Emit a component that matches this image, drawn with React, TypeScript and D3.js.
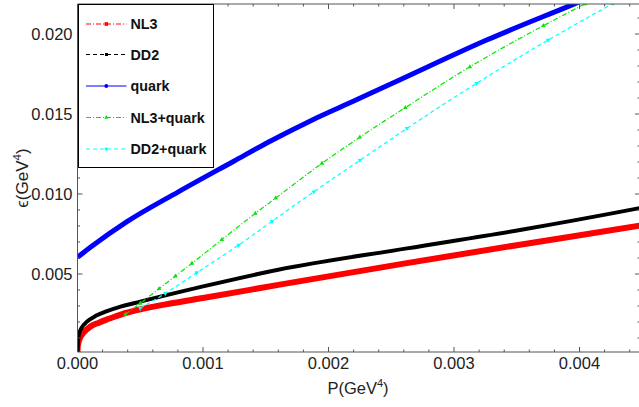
import React from 'react';
import * as d3 from 'd3';

const W = 639, H = 407;
const xTicks = [0, 0.001, 0.002, 0.003, 0.004];
const xTickLabels = ['0.000', '0.001', '0.002', '0.003', '0.004'];
const yTicks = [0.005, 0.010, 0.015, 0.020];
const yTickLabels = ['0.005', '0.010', '0.015', '0.020'];

const nl3P = [0, 0.000002, 0.000008, 0.00002, 0.00005, 0.0001, 0.00017, 0.00025, 0.00035, 0.0005, 0.00075, 0.001, 0.0016, 0.0026, 0.0035, 0.0045, 0.0046];
const nl3E = [0.00012, 0.00045, 0.00072, 0.001, 0.00135, 0.0017, 0.00196, 0.0022, 0.00248, 0.00279, 0.00317, 0.0035, 0.00432, 0.00565, 0.0068, 0.00805, 0.00818];

const dd2P = [0, 0.000003, 0.00001, 0.00003, 0.0000757, 0.00015, 0.000235, 0.00035, 0.0005, 0.00075, 0.000992, 0.00159, 0.002625, 0.003526, 0.004468, 0.0046];
const dd2E = [0.0001, 0.0006, 0.00119, 0.0016, 0.00202, 0.0024, 0.00268, 0.00298, 0.00327, 0.00376, 0.00421, 0.00525, 0.0066, 0.00775, 0.0091, 0.0093];

const quarkP = [0, 0.0001, 0.000394, 0.0008, 0.001245, 0.001523, 0.001855, 0.002227, 0.00257, 0.00326, 0.003964, 0.0043];
const quarkE = [0.00604, 0.00665, 0.00827, 0.01012, 0.01205, 0.01325, 0.01457, 0.0159, 0.01714, 0.01962, 0.0219, 0.0230];

const nl3qP = [0.000381, 0.0005, 0.00065, 0.00078, 0.000912, 0.00115, 0.001417, 0.00158, 0.001948, 0.00225, 0.002612, 0.003127, 0.003712, 0.004044];
const nl3qE = [0.00248, 0.00317, 0.00408, 0.00487, 0.00567, 0.00715, 0.00879, 0.00975, 0.01192, 0.01355, 0.0154, 0.01795, 0.02052, 0.02188];

const dd2qP = [0.0005, 0.0007, 0.00095, 0.001284, 0.00155, 0.001882, 0.00225, 0.002625, 0.00318, 0.00375, 0.00427];
const dd2qE = [0.00286, 0.00379, 0.00508, 0.00681, 0.00829, 0.01014, 0.0121, 0.0141, 0.01692, 0.01962, 0.02192];

const legendLabels = ['NL3', 'DD2', 'quark', 'NL3+quark', 'DD2+quark'];

const x = d3.scaleLinear().domain([0, 0.004482]).range([77.5, 640]);
const y = d3.scaleLinear().domain([0.000125, 0.021875]).range([352, 4]);

const zip = (a: number[], b: number[]) => a.map((v, i) => [v, b[i]] as [number, number]);
const line = d3.line<[number, number]>().x(d => x(d[0])).y(d => y(d[1])).curve(d3.curveMonotoneX);

const tri = (cx: number, cy: number, s: number, up: boolean) => {
  const h = s * 0.9;
  return up
    ? `M${cx},${cy - h * 0.66}L${cx + s / 2},${cy + h * 0.34}L${cx - s / 2},${cy + h * 0.34}Z`
    : `M${cx},${cy + h * 0.66}L${cx + s / 2},${cy - h * 0.34}L${cx - s / 2},${cy - h * 0.34}Z`;
};

const FONT = 'Liberation Sans, Arial, sans-serif';
const AX = '#555';
const GREEN = '#00e600';

export default function App() {
  const left = 77.5, right = 640, top = 4, bottom = 352;
  const xMinor = d3.range(0, 0.0045, 0.0002).filter(v => !xTicks.some(t => Math.abs(t - v) < 1e-9));
  const yMinor = d3.range(0.001, 0.0219, 0.001).filter(v => !yTicks.some(t => Math.abs(t - v) < 1e-9));
  const series = [
    { p: nl3P, e: nl3E, color: '#ff0000', w: 6 },
    { p: dd2P, e: dd2E, color: '#000000', w: 4 },
    { p: quarkP, e: quarkE, color: '#0000ff', w: 5 },
  ];
  const legY = [24, 54.5, 86, 117.5, 149];
  const legColors = ['#ff0000', '#000000', '#0000ff', GREEN, '#00ffff'];
  const legDash = ['5,2,1,2', '4,3', '', '5,2,1,2', '4,3'];
  return (
    <svg width={W} height={H} style={{ position: 'absolute', left: 0, top: 0, background: '#fff' }} fontFamily={FONT}>
      <defs>
        <clipPath id="plot">
          <rect x={left} y={top} width={right - left} height={bottom - top} />
        </clipPath>
      </defs>
      <rect x={0} y={0} width={W} height={H} fill="#fff" />
      <g clipPath="url(#plot)">
        {series.map((s, i) => (
          <path key={i} d={line(zip(s.p, s.e)) || ''} fill="none" stroke={s.color} strokeWidth={s.w} strokeLinejoin="round" />
        ))}
        <path d={line(zip(nl3qP, nl3qE)) || ''} fill="none" stroke={GREEN} strokeWidth={1.2} strokeDasharray="5,2,1,2" />
        {zip(nl3qP, nl3qE).map((d, i) => (
          <path key={'g' + i} d={tri(x(d[0]), y(d[1]), 4.5, true)} fill={GREEN} />
        ))}
        <path d={line(zip(dd2qP, dd2qE)) || ''} fill="none" stroke="#00ffff" strokeWidth={1.2} strokeDasharray="4,3" />
        {zip(dd2qP, dd2qE).map((d, i) => (
          <path key={'c' + i} d={tri(x(d[0]), y(d[1]), 4.5, false)} fill="#00ffff" />
        ))}
      </g>
      {/* frame */}
      <line x1={left} x2={left} y1={top} y2={bottom} stroke={AX} strokeWidth={1} />
      <line x1={left} x2={right} y1={bottom} y2={bottom} stroke={AX} strokeWidth={1} />
      <line x1={left} x2={right} y1={top} y2={top} stroke={AX} strokeWidth={1} />
      {xTicks.map((t, i) => (
        <g key={'xt' + i}>
          <line x1={x(t)} x2={x(t)} y1={bottom} y2={bottom - 5} stroke={AX} />
          <line x1={x(t)} x2={x(t)} y1={top} y2={top + 5} stroke={AX} />
          <text x={x(t)} y={368.5} fontSize={16.5} textAnchor="middle" fill="#222">{xTickLabels[i]}</text>
        </g>
      ))}
      {xMinor.map((t, i) => (
        <g key={'xm' + i}>
          <line x1={x(t)} x2={x(t)} y1={bottom} y2={bottom - 2.5} stroke={AX} />
          <line x1={x(t)} x2={x(t)} y1={top} y2={top + 2.5} stroke={AX} />
        </g>
      ))}
      {yTicks.map((t, i) => (
        <g key={'yt' + i}>
          <line x1={left} x2={left + 5} y1={y(t)} y2={y(t)} stroke={AX} />
          <line x1={right} x2={right - 5} y1={y(t)} y2={y(t)} stroke={AX} />
          <text x={72.5} y={y(t)} dy="0.36em" fontSize={16.5} textAnchor="end" fill="#222">{yTickLabels[i]}</text>
        </g>
      ))}
      {yMinor.map((t, i) => (
        <g key={'ym' + i}>
          <line x1={left} x2={left + 2.5} y1={y(t)} y2={y(t)} stroke={AX} />
          <line x1={right} x2={right - 2.5} y1={y(t)} y2={y(t)} stroke={AX} />
        </g>
      ))}
      {/* axis titles */}
      <text x={358} y={394} fontSize={16.5} textAnchor="middle" fill="#222">
        P(GeV<tspan fontSize={11} dy={-7}>4</tspan><tspan dy={7}>)</tspan>
      </text>
      <text transform="translate(28,178) rotate(-90)" fontSize={17} textAnchor="middle" fill="#222">
        ϵ(GeV<tspan fontSize={11.5} dy={-7}>4</tspan><tspan dy={7}>)</tspan>
      </text>
      {/* legend */}
      <rect x={78.5} y={4.5} width={135} height={163} fill="#fff" stroke="#000" strokeWidth={1} />
      {legendLabels.map((lab, i) => (
        <g key={'lg' + i}>
          <line x1={86} x2={126.5} y1={legY[i]} y2={legY[i]} stroke={legColors[i]} strokeWidth={1} strokeDasharray={legDash[i]} />
          {i === 0 && <rect x={104.5} y={legY[i] - 1.8} width={3.6} height={3.6} fill={legColors[i]} />}
          {i === 1 && <rect x={105} y={legY[i] - 1.5} width={3} height={3} fill={legColors[i]} />}
          {i === 2 && <circle cx={106.3} cy={legY[i]} r={1.9} fill={legColors[i]} />}
          {i === 3 && <path d={tri(106.3, legY[i], 4, true)} fill={legColors[i]} />}
          {i === 4 && <path d={tri(106.3, legY[i], 4, false)} fill={legColors[i]} />}
          <text x={130.5} y={legY[i]} dy="0.36em" fontSize={14.3} fontWeight="bold" fill="#111">{lab}</text>
        </g>
      ))}
    </svg>
  );
}
